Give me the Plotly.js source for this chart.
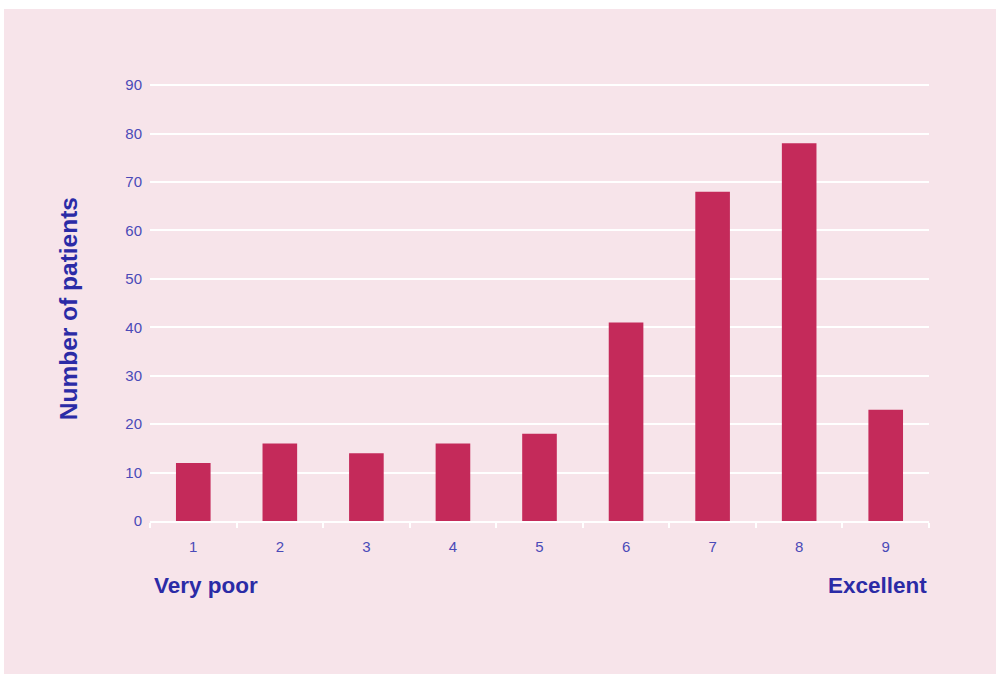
<!DOCTYPE html>
<html>
<head>
<meta charset="utf-8">
<script src="https://cdn.plot.ly/plotly-3.0.1.min.js"></script>
<style>
html,body{margin:0;padding:0;background:#ffffff;width:996px;height:675px;overflow:hidden;}
#chart{position:absolute;left:4px;top:9px;width:992px;height:665px;}
</style>
</head>
<body>
<div id="chart"></div>
<script>
const categories = ["1","2","3","4","5","6","7","8","9"];
const patients = [12, 16, 14, 16, 18, 41, 68, 78, 23];
const yTicks = [0, 10, 20, 30, 40, 50, 60, 70, 80, 90];
const yTitle = "Number of patients";
const lowLabel = "Very poor";
const highLabel = "Excellent";

const pink = "#f7e4ea";
const barColor = "#c42a5a";
const tickColor = "#4a4ab8";
const titleColor = "#2b2ba6";
const fam = "Liberation Sans, Arial, sans-serif";

const trace = {
  type: "bar",
  x: categories,
  y: patients,
  marker: {color: barColor, line: {width: 0}},
  width: 0.4,
  hoverinfo: "x+y"
};

const layout = {
  width: 992, height: 665,
  paper_bgcolor: pink,
  plot_bgcolor: pink,
  margin: {l: 146, r: 67, t: 75, b: 153},
  showlegend: false,
  font: {family: fam, color: tickColor, size: 15},
  xaxis: {
    type: "category",
    range: [-0.5, 8.5],
    showgrid: false,
    showline: true,
    linecolor: "#ffffff",
    linewidth: 2,
    ticks: "outside",
    tickson: "boundaries",
    ticklen: 5,
    tickwidth: 2,
    tickcolor: "#ffffff",
    ticklabelstandoff: 11,
    tickfont: {family: fam, size: 15, color: tickColor},
    zeroline: false,
    fixedrange: true
  },
  yaxis: {
    range: [0, 90.25],
    tickvals: yTicks,
    ticktext: yTicks.map(String),
    showgrid: true,
    gridcolor: "#ffffff",
    gridwidth: 2,
    zeroline: false,
    showline: false,
    ticks: "",
    ticklabelstandoff: 7,
    tickfont: {family: fam, size: 15, color: tickColor},
    fixedrange: true
  },
  annotations: [
    {text: "<b>" + yTitle + "</b>", xref: "paper", yref: "paper", x: -0.105, y: 0.485,
     xanchor: "center", yanchor: "middle", textangle: -90, showarrow: false,
     font: {family: fam, size: 24.5, color: titleColor}},
    {text: "<b>" + lowLabel + "</b>", xref: "paper", yref: "paper", x: 0.002, y: -0.148,
     xanchor: "left", yanchor: "middle", showarrow: false,
     font: {family: fam, size: 22.5, color: titleColor}},
    {text: "<b>" + highLabel + "</b>", xref: "paper", yref: "paper", x: 1.0, y: -0.148,
     xanchor: "right", yanchor: "middle", showarrow: false,
     font: {family: fam, size: 22.5, color: titleColor}}
  ]
};

Plotly.newPlot("chart", [trace], layout, {displayModeBar: false, staticPlot: true});
</script>
</body>
</html>
